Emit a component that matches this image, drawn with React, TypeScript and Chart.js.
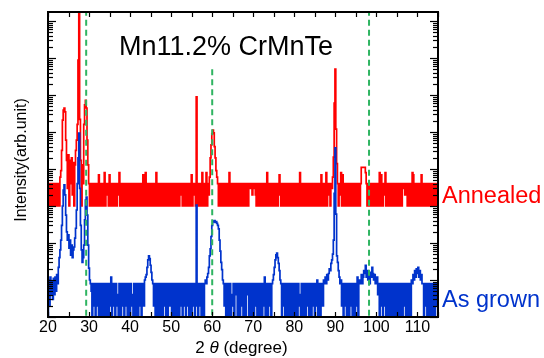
import React, { useEffect, useRef } from 'react';
import { Chart, registerables } from 'chart.js';

Chart.register(...registerables);

// 2θ measurement grid (degrees)
const angleStart = 20;
const angleStep = 0.2;

// As-grown intensity (counts), one value per 0.2° from 20° to 115°
const asGrown = [
  1, 10, 2, 12, 4, 9, 3, 11, 4, 12,
  5, 14, 8, 22, 40, 65, 120, 300, 1000, 2700,
  3700, 2000, 570, 200, 120, 165, 73, 120, 47, 88,
  40, 65, 78, 135, 250, 780, 4000, 20000, 94000, 3000,
  300, 65, 30, 40, 88, 420, 1450, 1750, 570, 88,
  21, 10, 8, 5, 1, 8, 2, 8, 1, 8,
  2, 8, 1, 4, 8, 1, 8, 2, 1, 8,
  8, 1, 4, 8, 1, 8, 2, 12, 1, 8,
  2, 8, 1, 8, 2, 4, 1, 8, 4, 1,
  8, 2, 8, 1, 8, 2, 8, 1, 4, 8,
  1, 8, 2, 4, 1, 8, 8, 1, 2, 8,
  1, 8, 2, 8, 1, 4, 8, 2, 10, 12,
  14, 22, 35, 45, 38, 25, 16, 10, 8, 2,
  8, 1, 8, 2, 1, 8, 8, 1, 4, 8,
  1, 8, 2, 8, 1, 8, 1, 4, 8, 2,
  8, 1, 2, 8, 1, 8, 4, 1, 8, 8,
  1, 4, 8, 2, 1, 8, 2, 8, 1, 8,
  2, 8, 1, 8, 4, 1, 8, 2, 8, 1,
  8, 1060, 2, 1, 8, 2, 8, 1, 4, 8,
  1, 8, 10, 8, 12, 15, 22, 45, 70, 150,
  300, 390, 370, 400, 360, 380, 340, 300, 240, 120,
  60, 30, 19, 10, 8, 2, 8, 1, 8, 2,
  1, 8, 8, 1, 4, 2, 8, 1, 8, 4,
  8, 1, 2, 8, 1, 8, 2, 8, 1, 8,
  2, 1, 8, 4, 8, 1, 4, 8, 1, 2,
  8, 1, 8, 2, 8, 1, 8, 2, 1, 8,
  4, 1, 8, 2, 12, 1, 8, 8, 1, 8,
  2, 8, 1, 8, 10, 14, 22, 35, 48, 53,
  40, 28, 18, 10, 8, 1, 8, 2, 8, 1,
  4, 8, 1, 2, 8, 1, 8, 2, 1, 8,
  8, 1, 4, 8, 1, 8, 2, 4, 1, 8,
  2, 1, 8, 8, 1, 8, 2, 8, 1, 4,
  8, 1, 8, 2, 8, 1, 8, 2, 10, 1,
  8, 2, 1, 8, 8, 2, 10, 8, 12, 8,
  14, 10, 15, 20, 18, 28, 35, 50, 120, 2200,
  37000, 600, 45, 30, 18, 12, 8, 10, 2, 8,
  1, 8, 2, 8, 1, 8, 4, 1, 8, 2,
  8, 1, 4, 8, 1, 2, 8, 12, 1, 8,
  10, 8, 14, 8, 12, 18, 15, 25, 12, 18,
  10, 14, 8, 16, 12, 22, 15, 10, 14, 8,
  8, 12, 4, 8, 1, 8, 2, 8, 1, 8,
  2, 8, 1, 8, 1, 8, 4, 1, 8, 2,
  1, 8, 8, 1, 4, 8, 1, 8, 2, 1,
  8, 4, 1, 8, 2, 8, 1, 8, 8, 1,
  2, 8, 1, 10, 8, 14, 10, 18, 12, 20,
  15, 22, 12, 18, 10, 14, 8, 8, 1, 8,
  2, 8, 1, 4, 8, 1, 8, 2, 1, 8,
  8, 1, 8, 2, 8, 1,
];

// Annealed intensity (counts), same grid, plotted with a vertical offset factor
const annealed = [
  4, 1, 4, 2, 1, 4, 3, 1, 4, 1,
  4, 2, 1, 4, 1, 6, 9, 32, 210, 390,
  445, 350, 60, 17, 3, 24, 1, 17, 4, 20,
  2, 15, 1, 13, 32, 60, 160, 8800, 300000, 220,
  17, 1, 13, 4, 160, 540, 720, 445, 60, 13,
  4, 1, 4, 2, 1, 4, 3, 1, 4, 1,
  4, 1, 7, 1, 4, 2, 1, 4, 1, 8,
  1, 4, 2, 4, 1, 7, 3, 1, 4, 1,
  4, 3, 1, 4, 1, 2, 4, 8, 1, 4,
  1, 4, 1, 3, 4, 1, 4, 2, 1, 4,
  2, 1, 4, 1, 4, 3, 1, 4, 1, 4,
  1, 4, 2, 1, 4, 1, 7, 4, 1, 8,
  1, 4, 3, 1, 4, 1, 4, 2, 1, 4,
  1, 4, 8, 1, 4, 2, 1, 4, 3, 1,
  4, 1, 4, 1, 2, 4, 1, 4, 1, 4,
  3, 1, 4, 1, 4, 2, 1, 4, 1, 4,
  1, 4, 2, 4, 1, 4, 1, 3, 4, 1,
  4, 1, 4, 2, 1, 7, 1, 4, 2, 4,
  1, 890, 1, 4, 3, 1, 4, 1, 8, 1,
  4, 2, 1, 8, 1, 4, 2, 6, 20, 45,
  90, 113, 95, 40, 20, 9, 6, 4, 1, 4,
  1, 4, 2, 1, 4, 1, 4, 3, 1, 4,
  1, 8, 4, 1, 2, 4, 1, 4, 1, 3,
  4, 1, 4, 2, 1, 4, 1, 4, 3, 1,
  4, 1, 2, 4, 1, 4, 4, 3, 4, 2,
  4, 3, 4, 2, 1, 4, 1, 4, 2, 1,
  4, 1, 4, 1, 3, 4, 1, 8, 1, 4,
  2, 1, 4, 1, 4, 3, 1, 4, 1, 4,
  1, 4, 7, 2, 1, 4, 1, 4, 2, 1,
  4, 1, 4, 3, 1, 4, 1, 2, 4, 1,
  4, 1, 4, 2, 1, 4, 1, 8, 1, 4,
  2, 1, 4, 1, 4, 3, 1, 4, 1, 4,
  1, 4, 2, 1, 4, 1, 4, 1, 3, 4,
  1, 4, 1, 7, 4, 1, 4, 2, 1, 8,
  1, 4, 2, 4, 1, 4, 3, 6, 21, 600,
  5000, 120, 14, 4, 1, 4, 2, 8, 1, 7,
  1, 4, 1, 4, 2, 1, 4, 1, 4, 3,
  1, 4, 1, 2, 4, 1, 4, 1, 4, 2,
  1, 4, 11, 11, 11, 11, 11, 8, 4, 1,
  4, 2, 1, 4, 1, 4, 3, 1, 4, 1,
  4, 2, 1, 4, 8, 1, 7, 4, 1, 4,
  2, 8, 1, 4, 1, 4, 3, 1, 4, 1,
  4, 2, 1, 4, 1, 4, 1, 3, 4, 1,
  4, 1, 4, 3, 4, 2, 4, 3, 1, 4,
  1, 4, 2, 1, 8, 7, 1, 4, 1, 4,
  3, 1, 4, 1, 4, 7, 1, 4, 2, 1,
  4, 1, 4, 1, 3, 4, 1, 4, 1, 4,
  2, 1, 4, 1, 4, 3,
];
const annealedOffset = 1000;

// Reference peak positions (green dashed lines) and their top intensity
const refLineAngles = [29.3, 60.0, 98.2];
const refLineTops = [2e8, 5e6, 2e8];

const xMin = 20;
const xMax = 115;
const yMin = 1;
const yMax = 1.75e8;
const xTickLabels = [20, 30, 40, 50, 60, 70, 80, 90, 100, 110];
const xMinorStep = 5;

const titleText = 'Mn11.2% CrMnTe';
const seriesLabels = ['Annealed', 'As grown'];
const yAxisTitle = 'Intensity(arb.unit)';

const FONT = "'Liberation Sans', Arial, sans-serif";

const framePlugin = {
  id: 'framePlugin',
  afterDatasetsDraw(chart: any) {
    const { ctx, chartArea: a, scales } = chart;
    const xs = scales.x;
    const ys = scales.y;
    ctx.save();
    ctx.strokeStyle = '#000';
    ctx.lineWidth = 1.2;
    const seg = (x1: number, y1: number, x2: number, y2: number) => {
      ctx.beginPath();
      ctx.moveTo(x1, y1);
      ctx.lineTo(x2, y2);
      ctx.stroke();
    };
    for (let v = xMin; v <= xMax; v += xMinorStep) {
      const px = Math.round(xs.getPixelForValue(v)) + 0.5;
      seg(px, a.bottom, px, a.bottom - 5);
      seg(px, a.top, px, a.top + 5);
    }
    for (let e = 0; e <= 9; e++) {
      for (let m = 1; m <= 9; m++) {
        const v = m * Math.pow(10, e);
        if (v > yMax) break;
        const py = Math.round(ys.getPixelForValue(v)) + 0.5;
        const len = m === 1 ? 8 : 5;
        seg(a.left, py, a.left + len, py);
        seg(a.right, py, a.right - len, py);
      }
    }
    ctx.lineWidth = 2;
    ctx.strokeRect(a.left, a.top, a.right - a.left, a.bottom - a.top);

    // x tick labels
    ctx.fillStyle = '#000';
    ctx.font = `16px ${FONT}`;
    ctx.textAlign = 'center';
    ctx.textBaseline = 'alphabetic';
    for (const t of xTickLabels) {
      ctx.fillText(String(t), xs.getPixelForValue(t), 332);
    }

    // x axis title: 2 θ (degree)
    const p1 = '2 ';
    const p3 = '(degree)';
    ctx.font = `17px ${FONT}`;
    const w1 = ctx.measureText(p1).width;
    const w3 = ctx.measureText(p3).width;
    ctx.font = `italic 17px ${FONT}`;
    const w2 = ctx.measureText('θ ').width;
    const total = w1 + w2 + w3;
    let sx = 241.5 - total / 2;
    ctx.textAlign = 'left';
    ctx.font = `17px ${FONT}`;
    ctx.fillText(p1, sx, 353);
    sx += w1;
    ctx.font = `italic 17px ${FONT}`;
    ctx.fillText('θ', sx, 353);
    sx += w2;
    ctx.font = `17px ${FONT}`;
    ctx.fillText(p3, sx, 353);

    // y axis title
    ctx.save();
    ctx.translate(26, 160);
    ctx.rotate(-Math.PI / 2);
    ctx.textAlign = 'center';
    ctx.font = `16px ${FONT}`;
    ctx.fillText(yAxisTitle, 0, 0);
    ctx.restore();

    // title inside plot
    ctx.textAlign = 'left';
    ctx.font = `27px ${FONT}`;
    ctx.fillStyle = '#000';
    ctx.fillText(titleText, 119, 55);

    // series labels
    ctx.font = `23.5px ${FONT}`;
    ctx.fillStyle = '#ff0000';
    ctx.fillText(seriesLabels[0], 442, 203);
    ctx.fillStyle = '#0033cc';
    ctx.fillText(seriesLabels[1], 442, 307);
    ctx.restore();
  },
};

export default function App() {
  const ref = useRef<HTMLCanvasElement | null>(null);
  useEffect(() => {
    if (!ref.current) return;
    const blueData = asGrown.map((v, i) => ({ x: angleStart + i * angleStep, y: v }));
    const redData = annealed.map((v, i) => ({ x: angleStart + i * angleStep, y: v * annealedOffset }));
    const refSets = refLineAngles.map((ang, i) => ({
      label: 'ref' + i,
      data: [
        { x: ang, y: refLineTops[i] },
        { x: ang, y: yMin },
      ],
      borderColor: '#2fb461',
      borderWidth: 2,
      borderDash: [6, 4],
      pointRadius: 0,
      order: 0,
    }));
    const chart = new Chart(ref.current, {
      type: 'line',
      data: {
        datasets: [
          ...refSets,
          {
            label: seriesLabels[1],
            data: blueData,
            borderColor: '#0033cc',
            borderWidth: 1.7,
            pointRadius: 0,
            stepped: 'middle',
            order: 1,
          },
          {
            label: seriesLabels[0],
            data: redData,
            borderColor: '#ff0000',
            borderWidth: 1.7,
            pointRadius: 0,
            stepped: 'middle',
            order: 2,
          },
        ],
      } as any,
      options: {
        animation: false,
        responsive: false,
        devicePixelRatio: 1,
        events: [],
        layout: { padding: { left: 48, right: 106, top: 12, bottom: 41 } },
        plugins: { legend: { display: false }, tooltip: { enabled: false } },
        scales: {
          x: { type: 'linear', min: xMin, max: xMax, display: false },
          y: { type: 'logarithmic', min: yMin, max: yMax, display: false },
        },
      } as any,
      plugins: [framePlugin],
    });
    return () => chart.destroy();
  }, []);
  return (
    <div style={{ position: 'fixed', left: 0, top: 0, width: 544, height: 358, background: '#fff' }}>
      <canvas ref={ref} width={544} height={358} style={{ width: 544, height: 358, display: 'block' }} />
    </div>
  );
}
